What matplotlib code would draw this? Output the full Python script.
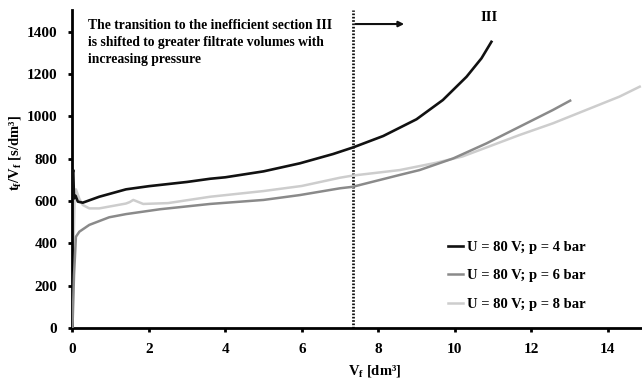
import matplotlib
matplotlib.use("Agg")
import matplotlib.pyplot as plt

plt.rcParams['font.family'] = ['Liberation Serif', 'DejaVu Serif']
plt.rcParams['font.weight'] = 'bold'
plt.rcParams['mathtext.fontset'] = 'custom'
plt.rcParams['mathtext.rm'] = 'Liberation Serif:bold'
plt.rcParams['mathtext.it'] = 'Liberation Serif:italic:bold'
plt.rcParams['mathtext.bf'] = 'Liberation Serif:bold'

# p = 4 bar
v4 = [0, 0.02, 0.04, 0.08, 0.14, 0.27, 0.7, 1.4, 2, 3, 3.6, 4, 5, 5.95, 6.82, 7.34, 8.13,
      9.0, 9.69, 10.31, 10.7, 10.96]
t4 = [730, 746, 612, 625, 597, 592, 620, 655, 670, 690, 705, 712, 740, 778, 822, 853, 907,
      986, 1077, 1187, 1274, 1352]
# p = 6 bar
v6 = [0, 0.04, 0.09, 0.18, 0.44, 0.96, 1.4, 2.29, 3.6, 5, 5.95, 7, 7.33, 8.56, 9.08, 9.96,
      10.83, 11.7, 12.57, 13.02]
t6 = [0, 250, 431, 455, 487, 523, 538, 561, 586, 605, 628, 660, 667, 723, 746, 801,
      872, 951, 1030, 1074]
# p = 8 bar
v8 = [0, 0.03, 0.06, 0.09, 0.18, 0.27, 0.44, 0.7, 1.4, 1.5, 1.59, 1.7, 1.85, 2.5, 3.6, 5, 6,
      7, 7.33, 8.56, 9.5, 10.2, 11.7, 12.57, 13.44, 14.31, 14.84]
t8 = [0, 400, 640, 655, 610, 581, 565, 565, 588, 595, 605, 597, 586, 590, 620, 647, 671,
      710, 720, 746, 780, 810, 912, 967, 1030, 1093, 1140]

labels = ['U = 80 V; p = 4 bar', 'U = 80 V; p = 6 bar', 'U = 80 V; p = 8 bar']
colors = ['#111111', '#8a8a8a', '#cdcdcd']

x_ticks = [0, 2, 4, 6, 8, 10, 12, 14]
y_ticks = [0, 200, 400, 600, 800, 1000, 1200, 1400]
transition_v = 7.33

fig = plt.figure(figsize=(6.42, 3.87), dpi=100)
ax = fig.add_axes([0.1129, 0.1525, 0.8871, 0.8204])

ax.plot(v8, t8, color=colors[2], lw=1.8, label=labels[2], zorder=2, solid_joinstyle='round')
ax.plot(v6, t6, color=colors[1], lw=1.8, label=labels[1], zorder=3, solid_joinstyle='round')
ax.plot(v4, t4, color=colors[0], lw=1.9, label=labels[0], zorder=4, solid_joinstyle='round')

ax.axvline(transition_v, color='#111111', lw=2, ls=(0, (0.6, 0.6)), zorder=1)
ax.annotate('', xy=(8.75, 1436), xytext=(transition_v, 1436),
            arrowprops=dict(arrowstyle='-|>', color='#111111', lw=1.5, mutation_scale=8))
ax.text(10.9, 1465, 'III', ha='center', va='center', fontsize=10.5, fontweight='bold')
ax.text(0.4, 1460, 'The transition to the inefficient section III\nis shifted to greater filtrate volumes with\nincreasing pressure',
        ha='left', va='top', fontsize=9.8, fontweight='bold', linespacing=1.4)

ax.set_xlim(0, 14.9)
ax.set_ylim(0, 1500)
ax.set_xticks(x_ticks)
ax.set_yticks(y_ticks)
ax.tick_params(direction='out', length=3, width=2, labelsize=11, pad=8)
for s in ['top', 'right']:
    ax.spines[s].set_visible(False)
for s in ['left', 'bottom']:
    ax.spines[s].set_linewidth(2)

ax.set_xlabel(r'V$_\mathregular{f}$ [dm³]', fontsize=10.5, fontweight='bold')
ax.set_ylabel(r't$_\mathregular{f}$/V$_\mathregular{f}$ [s/dm³]', fontsize=10.5, fontweight='bold')
ax.xaxis.set_label_coords(0.53, -0.11)
ax.yaxis.set_label_coords(-0.087, 0.55)

h, l = ax.get_legend_handles_labels()
order = [2, 1, 0]
fig.legend([h[i] for i in order], [l[i] for i in order], loc='lower left',
           bbox_to_anchor=(448 / 642, (387 - 311) / 387), bbox_transform=fig.transFigure,
           frameon=False, fontsize=10.5, handlelength=1.0, borderpad=0, borderaxespad=0,
           handletextpad=0.3, labelspacing=1.05)

fig.savefig('out.png', dpi=100)
